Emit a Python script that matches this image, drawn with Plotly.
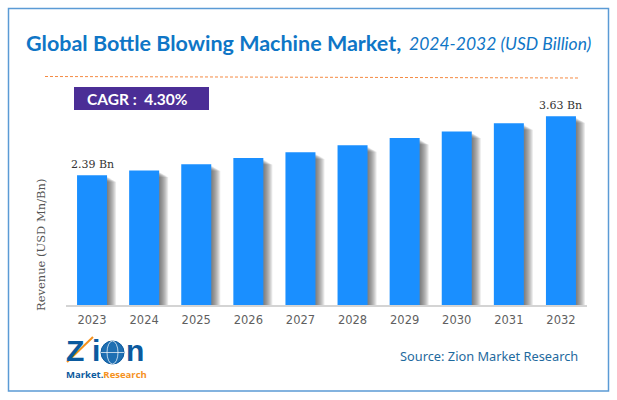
import plotly.graph_objects as go

# Data
years = ["2023", "2024", "2025", "2026", "2027", "2028", "2029", "2030", "2031", "2032"]
revenue = [2.39, 2.49, 2.62, 2.75, 2.87, 3.02, 3.17, 3.31, 3.48, 3.63]
label_years = ["2023", "2032"]
label_texts = ["2.39 Bn", "3.63 Bn"]

W, H = 617, 400
y_low, y_high = -0.34, 3.97
bar_width = 0.576


def px(x):
    return x / W


def py(y):
    return 1 - y / H


fig = go.Figure()

# Soft shadow to the right of each bar, built up from a few transparent bars
for i in range(1, 10):
    shift = i / 52.1
    fig.add_trace(go.Bar(x=years, y=[v - y_low - 0.03 - i * 0.012 for v in revenue], base=y_low,
                         width=bar_width, offset=-bar_width / 2 + shift,
                         marker=dict(color="rgba(60,60,60,0.11)", line_width=0),
                         showlegend=False, hoverinfo="skip"))

fig.add_trace(go.Bar(x=years, y=[v - y_low for v in revenue], base=y_low,
                     width=bar_width, offset=-bar_width / 2,
                     marker=dict(color="#1a8fff", line_width=0),
                     showlegend=False,
                     customdata=revenue, hovertemplate="%{x}: %{customdata} Bn<extra></extra>"))

fig.update_layout(width=W, height=H, barmode="overlay", margin=dict(l=0, r=0, t=0, b=0),
                  paper_bgcolor="white", plot_bgcolor="white", showlegend=False)

fig.update_xaxes(domain=[px(66), px(587)], type="category", range=[-0.5, 9.5],
                 showgrid=False, showline=True, linecolor="#d4d4d4", linewidth=1.5,
                 ticks="", ticklabelstandoff=3,
                 tickfont=dict(family="DejaVu Sans", size=11.5, color="#5f5f5f"))
fig.update_yaxes(domain=[py(305), py(100)], range=[y_low, y_high],
                 showgrid=False, zeroline=False, showline=False, showticklabels=False, ticks="")

# Rahmen und gestrichelte Linie
fig.add_shape(type="rect", xref="paper", yref="paper", x0=px(8.5), x1=px(608.5), y0=py(391), y1=py(8.5),
              line=dict(color="#5b9bd5", width=1.5), fillcolor="rgba(0,0,0,0)", layer="below")
fig.add_shape(type="line", xref="paper", yref="paper", x0=px(45), x1=px(580), y0=py(76.5), y1=py(78),
              line=dict(color="#f58a42", width=1, dash="3px,2px"))
fig.add_shape(type="rect", xref="paper", yref="paper", x0=px(74), x1=px(209), y0=py(110), y1=py(87),
              line_width=0, fillcolor="#4b2e96")

# Titel
fig.add_annotation(text="<b>Global Bottle Blowing Machine Market,</b>", xref="paper", yref="paper",
                   x=px(24), y=py(43), xanchor="left", yanchor="middle", showarrow=False,
                   font=dict(family="Lato", size=21.5, color="#0f76c6"))
fig.add_annotation(text="<i>2024-2032 (USD Billion)</i>", xref="paper", yref="paper",
                   x=px(593), y=py(44), xanchor="right", yanchor="middle", showarrow=False,
                   font=dict(family="Lato", size=17.5, color="#0f76c6"))
fig.add_annotation(text="<b>CAGR :  4.30%</b>", xref="paper", yref="paper",
                   x=px(85), y=py(99), xanchor="left", yanchor="middle", showarrow=False,
                   font=dict(family="Lato", size=15.5, color="white"))

# Werte (x als Index, weil "2023" sonst als Kategorie-Nummer gelesen wird)
for yr, txt in zip(label_years, label_texts):
    idx = years.index(yr)
    fig.add_annotation(text=txt, xref="x", yref="y", x=idx, y=revenue[idx],
                       yanchor="bottom", yshift=2, showarrow=False,
                       font=dict(family="DejaVu Serif", size=11, color="#333333"))

fig.add_annotation(text="Revenue (USD Mn/Bn)", xref="paper", yref="paper", x=px(41), y=py(245),
                   textangle=-90, showarrow=False, xanchor="center", yanchor="middle",
                   font=dict(family="DejaVu Serif", size=11.5, color="#555555"))
fig.add_annotation(text="Source: Zion Market Research", xref="paper", yref="paper", x=px(489), y=py(356),
                   showarrow=False, xanchor="center", yanchor="middle",
                   font=dict(family="Noto Sans", size=12.8, color="#1f6a9e"))

# Logo
fig.add_annotation(text="<b>Z</b>", xref="paper", yref="paper", x=px(64), y=py(350.5), xanchor="left", yanchor="middle",
                   showarrow=False, font=dict(family="Liberation Sans", size=30, color="#0b5a9e"))
fig.add_annotation(text="<b>i</b>", xref="paper", yref="paper", x=px(90), y=py(350.5), xanchor="left", yanchor="middle",
                   showarrow=False, font=dict(family="Liberation Sans", size=30, color="#0b5a9e"))
fig.add_shape(type="circle", xref="paper", yref="paper", x0=px(101), x1=px(124), y0=py(364), y1=py(341),
              line=dict(color="#0b5a9e", width=1), fillcolor="#1f6fb2")
fig.add_shape(type="circle", xref="paper", yref="paper", x0=px(107), x1=px(118), y0=py(364), y1=py(341),
              line=dict(color="white", width=0.7), fillcolor="rgba(0,0,0,0)")
fig.add_shape(type="line", xref="paper", yref="paper", x0=px(101), x1=px(124), y0=py(352.5), y1=py(352.5),
              line=dict(color="white", width=0.7))
fig.add_annotation(text="<b>n</b>", xref="paper", yref="paper", x=px(124), y=py(350.5), xanchor="left", yanchor="middle",
                   showarrow=False, font=dict(family="Liberation Sans", size=30, color="#0b5a9e"))
fig.add_shape(type="line", xref="paper", yref="paper", x0=px(67), x1=px(93), y0=py(362), y1=py(337),
              line=dict(color="#f5921e", width=2))
fig.add_annotation(text="<b><span style='color:#0b5a9e'>Market.</span><span style='color:#f5921e'>Research</span></b>",
                   xref="paper", yref="paper", x=px(106), y=py(374), xanchor="center", yanchor="middle",
                   showarrow=False, font=dict(family="Open Sans", size=9.5))

fig.write_html("out.html", config=dict(displayModeBar=False),
               post_script="document.body.style.margin = '0';")
